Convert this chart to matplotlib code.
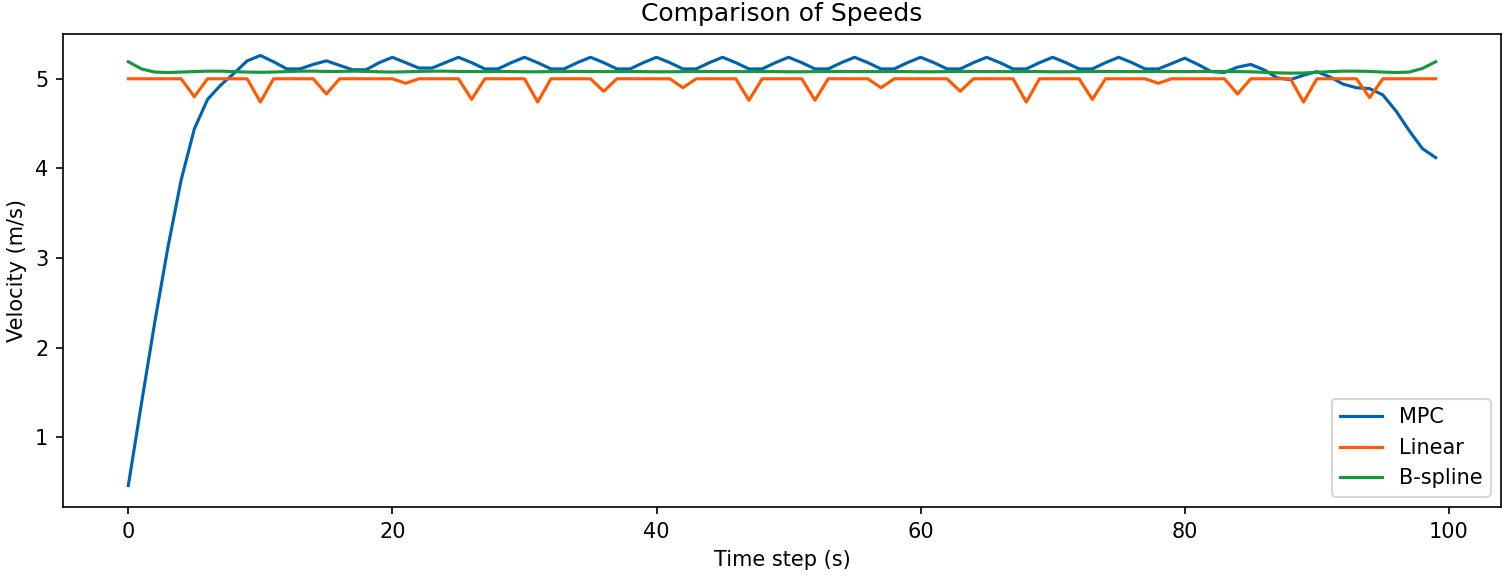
import numpy as np
import matplotlib.pyplot as plt

# time steps
t = np.arange(100)

# MPC velocity
mpc = [0.46, 1.38, 2.28, 3.12, 3.87, 4.44, 4.77, 4.93, 5.06, 5.20,
       5.26, 5.19, 5.11, 5.11, 5.16, 5.20, 5.15, 5.10, 5.10, 5.18,
       5.24, 5.18, 5.12, 5.12, 5.18, 5.24, 5.18, 5.11, 5.11, 5.18,
       5.24, 5.18, 5.11, 5.11, 5.18, 5.24, 5.18, 5.11, 5.11, 5.18,
       5.24, 5.18, 5.11, 5.11, 5.18, 5.24, 5.18, 5.11, 5.11, 5.18,
       5.24, 5.18, 5.11, 5.11, 5.18, 5.24, 5.18, 5.11, 5.11, 5.18,
       5.24, 5.18, 5.11, 5.11, 5.18, 5.24, 5.18, 5.11, 5.11, 5.18,
       5.24, 5.18, 5.11, 5.11, 5.18, 5.24, 5.18, 5.11, 5.11, 5.17,
       5.23, 5.16, 5.08, 5.07, 5.13, 5.16, 5.10, 5.01, 4.99, 5.04,
       5.08, 5.02, 4.94, 4.90, 4.89, 4.82, 4.64, 4.42, 4.22, 4.12]

# Linear interpolation velocity
linear = [5.00, 5.00, 5.00, 5.00, 5.00, 4.80, 5.00, 5.00, 5.00, 5.00,
          4.74, 5.00, 5.00, 5.00, 5.00, 4.83, 5.00, 5.00, 5.00, 5.00,
          5.00, 4.95, 5.00, 5.00, 5.00, 5.00, 4.77, 5.00, 5.00, 5.00,
          5.00, 4.74, 5.00, 5.00, 5.00, 5.00, 4.86, 5.00, 5.00, 5.00,
          5.00, 5.00, 4.90, 5.00, 5.00, 5.00, 5.00, 4.76, 5.00, 5.00,
          5.00, 5.00, 4.76, 5.00, 5.00, 5.00, 5.00, 4.90, 5.00, 5.00,
          5.00, 5.00, 5.00, 4.86, 5.00, 5.00, 5.00, 5.00, 4.74, 5.00,
          5.00, 5.00, 5.00, 4.77, 5.00, 5.00, 5.00, 5.00, 4.95, 5.00,
          5.00, 5.00, 5.00, 5.00, 4.83, 5.00, 5.00, 5.00, 5.00, 4.74,
          5.00, 5.00, 5.00, 5.00, 4.79, 5.00, 5.00, 5.00, 5.00, 5.00]

# B-spline velocity
bspline = [5.19, 5.11, 5.075, 5.07, 5.075, 5.08, 5.085, 5.085, 5.08, 5.075,
           5.072, 5.075, 5.08, 5.085, 5.085, 5.082, 5.082, 5.085, 5.082, 5.078,
           5.075, 5.078, 5.082, 5.085, 5.085, 5.082, 5.08, 5.08, 5.082, 5.08,
           5.078, 5.078, 5.08, 5.082, 5.082, 5.08, 5.08, 5.08, 5.082, 5.08,
           5.078, 5.078, 5.08, 5.082, 5.082, 5.08, 5.08, 5.08, 5.082, 5.08,
           5.078, 5.078, 5.08, 5.082, 5.082, 5.08, 5.08, 5.08, 5.082, 5.08,
           5.078, 5.078, 5.08, 5.082, 5.082, 5.08, 5.08, 5.08, 5.082, 5.08,
           5.078, 5.078, 5.08, 5.082, 5.082, 5.08, 5.08, 5.08, 5.082, 5.08,
           5.08, 5.08, 5.082, 5.082, 5.08, 5.078, 5.072, 5.066, 5.063, 5.065,
           5.072, 5.08, 5.085, 5.085, 5.082, 5.075, 5.07, 5.075, 5.115, 5.19]

fig = plt.figure(figsize=(10.04, 3.84), dpi=150)
ax = fig.add_subplot(111)
ax.plot(t, mpc, color='#0063B1', lw=1.5, label='MPC')
ax.plot(t, linear, color='#FF5A00', lw=1.5, label='Linear')
ax.plot(t, bspline, color='#16993A', lw=1.5, label='B-spline')

ax.set_title('Comparison of Speeds')
ax.set_xlabel('Time step (s)')
ax.set_ylabel('Velocity (m/s)')
ax.legend(loc='lower right')

fig.subplots_adjust(left=0.0418, right=0.9967, bottom=0.1198, top=0.941)
fig.savefig('out.png', dpi=150)
